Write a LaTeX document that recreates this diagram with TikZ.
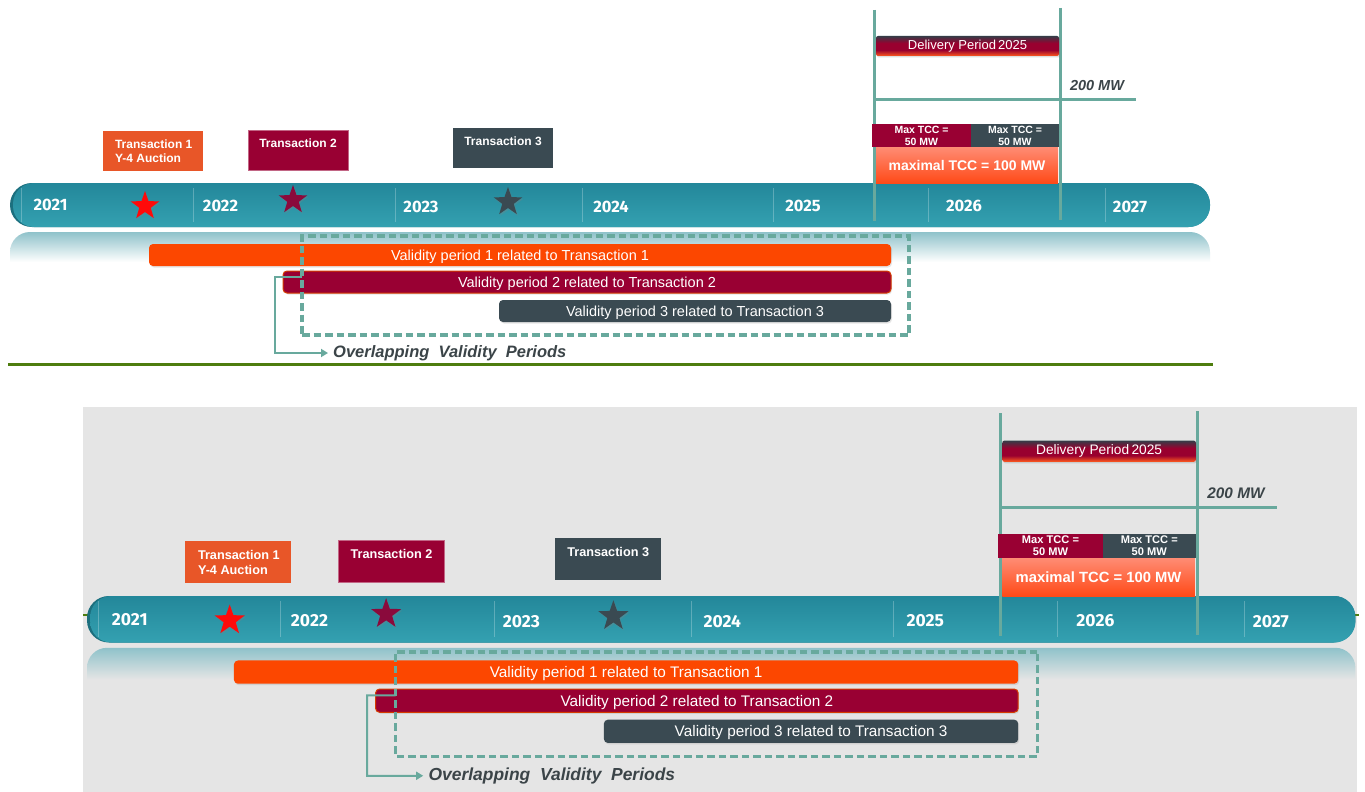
\documentclass[tikz,border=0pt]{standalone}
\usepackage{fontspec}
\setmainfont{Liberation Sans}
\newfontfamily\yearfont{Fira Sans}
\usetikzlibrary{shapes.geometric,arrows.meta,calc,shadows}
\definecolor{tealA}{HTML}{23879A}
\definecolor{tealB}{HTML}{34A1B1}
\definecolor{tealDark}{HTML}{1C6F7E}
\definecolor{refl}{HTML}{8FC2CA}
\definecolor{lineteal}{HTML}{68A99D}
\definecolor{orng}{HTML}{FC4700}
\definecolor{torng}{HTML}{E85628}
\definecolor{crim}{HTML}{990033}
\definecolor{slate}{HTML}{3A4A52}
\definecolor{txtgray}{HTML}{3B4448}
\definecolor{grn}{HTML}{4E7D0E}
\definecolor{panelgray}{HTML}{E5E5E5}
\definecolor{redstar}{HTML}{FF0A0A}
\definecolor{crimstar}{HTML}{8A0A3C}
\definecolor{slatestar}{HTML}{3A4A52}
\definecolor{dpTop}{HTML}{353C47}
\definecolor{dpMid}{HTML}{99002F}
\definecolor{dpBot}{HTML}{FF5A1E}
\definecolor{mxTop}{HTML}{FF8C74}
\definecolor{mxBot}{HTML}{FF4A18}
\pgfdeclareverticalshading{dpshade}{100bp}{color(0bp)=(dpBot); color(25bp)=(dpBot); color(40bp)=(dpMid); color(57bp)=(dpMid); color(75bp)=(dpTop); color(100bp)=(dpTop)}
\tikzset{
  yr/.style={text=white, font=\yearfont\bfseries\fontsize{16.5}{18}\selectfont, inner sep=0},
  tbox/.style={minimum width=100, minimum height=40, inner sep=0},
  ttxt/.style={text=white, font=\bfseries\fontsize{12}{14.5}\selectfont, inner sep=0, align=left},
  starnode/.style={star, star points=5, star point ratio=2.5, minimum size=30, inner sep=0,
    drop shadow={shadow xshift=1pt, shadow yshift=-1.5pt, opacity=.3}},
  vbar/.style={rounded corners=4, minimum height=22, inner sep=0, text=white,
    text height=10.4, text depth=0,
    font=\fontsize{14.5}{16}\selectfont,
    drop shadow={shadow xshift=1pt, shadow yshift=-1.5pt, opacity=.2}},
  vline/.style={lineteal, line width=3},
  tickline/.style={white, opacity=.25, line width=.8},
  tcc/.style={minimum height=23, inner sep=0, text=white, align=center,
    font=\bfseries\fontsize{10.5}{12}\selectfont},
  ovbox/.style={draw=lineteal, line width=3.5, dash pattern=on 7.5pt off 4pt, inner sep=0},
  brk/.style={lineteal, line width=2, -{Triangle[length=7,width=8]}},
  ovtxt/.style={text=txtgray, font=\bfseries\itshape\fontsize{16.5}{18}\selectfont, inner xsep=5, inner ysep=0},
  mwtxt/.style={text=txtgray, font=\bfseries\itshape\fontsize{14.5}{16}\selectfont, inner sep=0}
}
\newcommand\drawpanel[2]{%
  % timeline bar
  \fill[tealDark, rounded corners=22] (10,183) rectangle (1210,227);
  \shade[top color=tealA, bottom color=tealB, rounded corners=21] (13,183) rectangle (1210,227);
  % reflection
  \shade[top color=refl, middle color=refl!35!#2, bottom color=#2] (10,262) [rounded corners=20] -- (10,232) -- (1210,232) [sharp corners] -- (1210,262) -- cycle;
  % ticks
  \foreach \tx in {21,193,395,582,773,928,1105} {\draw[tickline] (\tx,188) -- (\tx,222);}
  % years
  \node[yr] (#1y21) at (50.5,205) {2021};
  \node[yr] (#1y22) at (220.5,206) {2022};
  \node[yr] (#1y23) at (421,207) {2023};
  \node[yr] (#1y24) at (611,207) {2024};
  \node[yr] (#1y25) at (803,206) {2025};
  \node[yr] (#1y26) at (964,206) {2026};
  \node[yr] (#1y27) at (1130,207) {2027};
  % stars
  \node[starnode, fill=redstar] (#1s1) at (145,206) {};
  \node[starnode, fill=crimstar] (#1s2) at (293,200) {};
  \node[starnode, fill=slatestar] (#1s3) at (508,202) {};
  % transactions
  \node[tbox, fill=torng] (#1t1) at (153,151) {};
  \node[ttxt, anchor=north west] (#1t1l) at ($(#1t1.north west)+(12,8.5)$) {Transaction 1\\Y-4 Auction};
  \node[tbox, fill=crim, draw=crim!60!white, line width=.6] (#1t2) at (298,150.5) {};
  \node[ttxt, anchor=north] (#1t2l) at ($(#1t2.north)+(0,8.5)$) {Transaction 2};
  \node[tbox, fill=slate] (#1t3) at (503,148) {};
  \node[ttxt, anchor=north] (#1t3l) at ($(#1t3.north)+(0,8.5)$) {Transaction 3};
  % delivery lines
  \coordinate (#1la) at (874,10); \coordinate (#1lb) at (874,221);
  \coordinate (#1lc) at (1060,8); \coordinate (#1ld) at (1060,220);
  \coordinate (#1le) at (874,99); \coordinate (#1lf) at (1136,99);
  \draw[vline] (#1la) -- (#1lb);
  \draw[vline] (#1lc) -- (#1ld);
  \draw[vline] (#1le) -- (#1lf);
  \node[mwtxt] (#1mw) at (1097,86) {200 MW};
  \node[rounded corners=2, minimum width=183, minimum height=20, inner sep=0,
        shading=dpshade, text=white,
        font=\fontsize{13}{15}\selectfont,
        drop shadow={shadow xshift=1pt, shadow yshift=-1.5pt, opacity=.25}] (#1dp) at (967.5,46) {Delivery Period\,2025};
  \node[minimum width=182, minimum height=36, inner sep=0, top color=mxTop, bottom color=mxBot,
        text=white, font=\bfseries\fontsize{14}{16}\selectfont] (#1mx) at (967,165) {maximal TCC = 100 MW};
  \node[tcc, fill=crim, minimum width=99] (#1c1) at (921.5,135.5) {Max TCC =\\50 MW};
  \node[tcc, fill=slate, minimum width=88] (#1c2) at (1015,135.5) {Max TCC =\\50 MW};
  % validity bars
  \node[vbar, fill=orng, minimum width=742] (#1v1) at (520,255) {Validity period 1 related to Transaction 1};
  \node[vbar, fill=crim, draw=orng!85!black, line width=1, minimum width=608] (#1v2) at (587,282) {Validity period 2 related to Transaction 2};
  \node[vbar, fill=slate, minimum width=392] (#1v3) at (695,311) {Validity period 3 related to Transaction 3};
  % overlap box and bracket
  \node[ovbox, minimum width=607, minimum height=99] (#1ov) at (605.5,285.5) {};
  \node[ovtxt, anchor=west] (#1ovt) at (328,353) {Overlapping\ \ Validity\ \ Periods};
  \coordinate (#1bs) at (302,277);
  \draw[brk] (#1bs) -- (275,277) |- (#1ovt.west);
}
\begin{document}
\begin{tikzpicture}[x=1pt,y=-1pt]
\useasboundingbox (0,0) rectangle (1365,792);
\fill[white] (0,0) rectangle (1365,792);
% top panel
\drawpanel{a}{white}
\draw[grn, line width=2.5] (8,364.5) -- (1213,364.5);
% bottom panel
\fill[panelgray] (83,407) rectangle (1357,792);
\draw[grn, line width=2] (83,615) -- (1359,615);
\begin{scope}[shift={(76.43,402.57)}, scale=1.057, transform shape]
\drawpanel{b}{panelgray}
\end{scope}
\end{tikzpicture}
\end{document}
